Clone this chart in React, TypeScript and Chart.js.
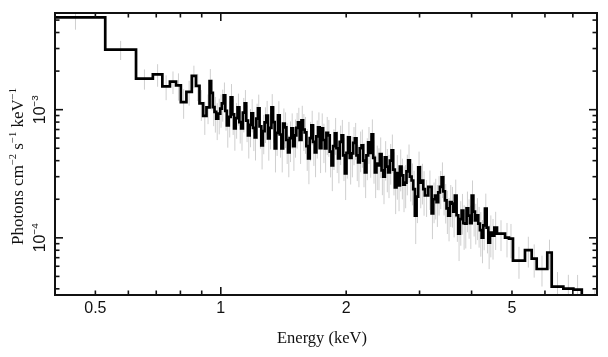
import React, { useEffect, useRef } from 'react';
import { Chart, registerables } from 'chart.js';

Chart.register(...registerables);

// Bin lower edges (keV)
const binLo = [
  0.38, 0.528, 0.626, 0.687, 0.724, 0.755, 0.781, 0.802, 0.827, 0.852, 0.872, 0.889, 0.907, 0.924,
  0.940, 0.948, 0.957, 0.966, 0.975, 0.986, 0.997, 1.006, 1.016, 1.025,
  1.034, 1.045, 1.056, 1.066, 1.076, 1.086, 1.097, 1.108, 1.119, 1.130,
  1.141, 1.151, 1.162, 1.173, 1.184, 1.195, 1.206, 1.217, 1.228, 1.239,
  1.251, 1.262, 1.274, 1.286, 1.298, 1.310, 1.323, 1.335, 1.347, 1.359,
  1.372, 1.385, 1.398, 1.411, 1.424, 1.437, 1.450, 1.463, 1.477, 1.491,
  1.505, 1.518, 1.532, 1.547, 1.562, 1.576, 1.590, 1.605, 1.620, 1.635,
  1.650, 1.665, 1.681, 1.696, 1.712, 1.728, 1.744, 1.760, 1.777, 1.793,
  1.809, 1.826, 1.844, 1.861, 1.878, 1.895, 1.912, 1.930, 1.949, 1.967,
  1.985, 2.003, 2.021, 2.040, 2.060, 2.079, 2.098, 2.117, 2.136, 2.156,
  2.177, 2.197, 2.217, 2.237, 2.258, 2.279, 2.301, 2.322, 2.343, 2.364,
  2.386, 2.409, 2.432, 2.454, 2.476, 2.499, 2.522, 2.546, 2.570, 2.593,
  2.617, 2.641, 2.666, 2.691, 2.716, 2.741, 2.766, 2.791, 2.817, 2.844,
  2.871, 2.897, 2.924, 2.951, 2.978, 3.006, 3.034, 3.062, 3.090, 3.148,
  3.207, 3.236, 3.266, 3.296, 3.326, 3.357, 3.389, 3.420, 3.452, 3.483,
  3.515, 3.548, 3.582, 3.615, 3.648, 3.681, 3.715, 3.750, 3.786, 3.821,
  3.856, 3.891, 3.927, 3.964, 4.002, 4.038, 4.075, 4.112, 4.150, 4.189,
  4.229, 4.268, 4.307, 4.347, 4.387, 4.428, 4.470, 4.536,
  4.603, 4.812, 4.918, 5.028, 5.373, 5.576, 5.732, 6.078, 6.228, 6.642, 7.020, 7.355,
];
const binEnd = 8.5;

// Photons cm^-2 s^-1 keV^-1, in units of 1e-3
const fluxMilli = [
  5.26, 2.94, 1.747, 1.887, 1.52, 1.655, 1.548, 1.147, 1.377, 1.837, 1.535, 1.12, 0.895, 1.042,
  1.673, 1.35, 1.048, 0.96, 0.851, 0.93, 1.018, 1.12, 1.293, 0.98,
  0.754, 0.88, 1.248, 0.92, 0.714, 0.86, 1.042, 0.80, 0.714, 0.95,
  1.12, 0.82, 0.630, 0.76, 0.936, 0.72, 0.608, 0.85, 1.024, 0.74,
  0.526, 0.68, 0.796, 0.90, 0.597, 0.72, 1.042, 0.80, 0.498, 0.66,
  0.903, 0.64, 0.498, 0.78, 0.727, 0.58, 0.464, 0.60, 0.714, 0.52,
  0.630, 0.72, 0.796, 0.58, 0.825, 0.70, 0.665, 0.52, 0.416, 0.60,
  0.754, 0.56, 0.464, 0.62, 0.727, 0.50, 0.714, 0.58, 0.498, 0.66,
  0.630, 0.47, 0.367, 0.52, 0.653, 0.50, 0.416, 0.56, 0.630, 0.44,
  0.318, 0.46, 0.608, 0.42, 0.456, 0.55, 0.597, 0.44, 0.388, 0.50,
  0.526, 0.40, 0.324, 0.44, 0.555, 0.46, 0.641, 0.42, 0.324, 0.38,
  0.367, 0.45, 0.336, 0.30, 0.424, 0.36, 0.324, 0.40, 0.481, 0.34,
  0.247, 0.32, 0.256, 0.36, 0.307, 0.26, 0.270, 0.33, 0.402, 0.30,
  0.280, 0.24, 0.149, 0.21, 0.354, 0.27, 0.280, 0.24, 0.214, 0.25,
  0.155, 0.20, 0.214, 0.19, 0.226, 0.25, 0.296, 0.23, 0.196, 0.17,
  0.149, 0.19, 0.185, 0.16, 0.214, 0.15, 0.108, 0.14, 0.163, 0.13,
  0.129, 0.17, 0.149, 0.13, 0.214, 0.16, 0.1365, 0.15, 0.129, 0.115,
  0.1005, 0.125, 0.169, 0.12, 0.0919, 0.11, 0.104, 0.12,
  0.108, 0.1005, 0.0987, 0.0665, 0.0803, 0.0689, 0.0571, 0.0768, 0.0416, 0.0402, 0.0395, 0.030,
];

// Relative 1-sigma errors per bin
const relErr = [
  0.20, 0.17, 0.18, 0.20, 0.22, 0.20, 0.24, 0.26, 0.22, 0.20, 0.24, 0.27, 0.29, 0.26,
  0.24, 0.27, 0.29, 0.31, 0.32, 0.31, 0.29, 0.28, 0.26, 0.30,
  0.33, 0.31, 0.27, 0.31, 0.33, 0.31, 0.28, 0.32, 0.33, 0.30,
  0.27, 0.32, 0.34, 0.33, 0.29, 0.34, 0.34, 0.31, 0.28, 0.33,
  0.35, 0.34, 0.31, 0.30, 0.33, 0.32, 0.27, 0.31, 0.35, 0.34,
  0.29, 0.34, 0.35, 0.31, 0.31, 0.35, 0.36, 0.35, 0.31, 0.36,
  0.33, 0.31, 0.30, 0.35, 0.30, 0.32, 0.32, 0.36, 0.37, 0.34,
  0.30, 0.35, 0.36, 0.33, 0.31, 0.36, 0.31, 0.34, 0.35, 0.33,
  0.32, 0.37, 0.37, 0.35, 0.32, 0.36, 0.36, 0.34, 0.32, 0.37,
  0.38, 0.37, 0.32, 0.38, 0.35, 0.33, 0.32, 0.37, 0.36, 0.35,
  0.33, 0.38, 0.37, 0.36, 0.32, 0.36, 0.31, 0.37, 0.37, 0.38,
  0.36, 0.35, 0.36, 0.39, 0.34, 0.37, 0.37, 0.35, 0.33, 0.37,
  0.38, 0.38, 0.37, 0.36, 0.35, 0.39, 0.37, 0.35, 0.33, 0.36,
  0.36, 0.39, 0.40, 0.38, 0.33, 0.37, 0.35, 0.38, 0.32, 0.34,
  0.37, 0.35, 0.35, 0.36, 0.34, 0.33, 0.31, 0.35, 0.34, 0.37,
  0.37, 0.36, 0.35, 0.37, 0.33, 0.38, 0.39, 0.38, 0.35, 0.38,
  0.36, 0.35, 0.34, 0.37, 0.31, 0.36, 0.35, 0.36, 0.35, 0.38,
  0.37, 0.36, 0.31, 0.37, 0.38, 0.36, 0.35, 0.33,
  0.27, 0.30, 0.30, 0.28, 0.27, 0.29, 0.27, 0.26, 0.30, 0.28, 0.30, 0.30,
];

const xMin = 0.4;
const xMax = 8;
const yMin = 3.58e-5;
const yMax = 5.68e-3;

const xTickLabels = [0.5, 1, 2, 5];
const xMajorTicks = [1];
const xMinorTicks = [0.5, 0.6, 0.7, 0.8, 0.9, 2, 3, 4, 5, 6, 7];
const yMajorTicks = [1e-4, 1e-3];
const yMinorTicks = [4e-5, 5e-5, 6e-5, 7e-5, 8e-5, 9e-5, 2e-4, 3e-4, 4e-4, 5e-4, 6e-4, 7e-4, 8e-4, 9e-4, 2e-3, 3e-3, 4e-3, 5e-3];
const yTickValues = [1e-4, 1e-3];
const yTickExponents = ['\u22124', '\u22123'];

const xTitle = 'Energy (keV)';
const yTitleParts = [
  { t: 'Photons cm', sup: false },
  { t: '\u22122', sup: true },
  { t: ' s', sup: false },
  { t: '\u22121', sup: true },
  { t: ' keV', sup: false },
  { t: '\u22121', sup: true },
];

type Part = { t: string; sup: boolean };

function drawRich(ctx: CanvasRenderingContext2D, parts: Part[], x: number, y: number, size: number, family: string) {
  const supSize = size * 0.62;
  let total = 0;
  const widths: number[] = [];
  for (const p of parts) {
    ctx.font = `${p.sup ? supSize : size}px ${family}`;
    const w = ctx.measureText(p.t).width;
    widths.push(w);
    total += w;
  }
  let cx = x - total / 2;
  ctx.textAlign = 'left';
  ctx.textBaseline = 'alphabetic';
  parts.forEach((p, i) => {
    ctx.font = `${p.sup ? supSize : size}px ${family}`;
    ctx.fillText(p.t, cx, p.sup ? y - size * 0.42 : y);
    cx += widths[i];
  });
}

const framePlugin = {
  id: 'frame',
  afterDraw(chart: any) {
    const ctx: CanvasRenderingContext2D = chart.ctx;
    const { left, right, top, bottom } = chart.chartArea;
    const xs = chart.scales.x;
    const ys = chart.scales.y;
    ctx.save();
    ctx.strokeStyle = '#111';
    ctx.fillStyle = '#111';
    ctx.lineWidth = 1.6;
    const tick = (x1: number, y1: number, x2: number, y2: number) => {
      ctx.beginPath();
      ctx.moveTo(x1, y1);
      ctx.lineTo(x2, y2);
      ctx.stroke();
    };
    const xt = [...xMajorTicks.map((v) => [v, 8]), ...xMinorTicks.map((v) => [v, 4.5])];
    for (const [v, len] of xt) {
      const px = xs.getPixelForValue(v);
      tick(px, bottom, px, bottom - len);
      tick(px, top, px, top + len);
    }
    const yt = [...yMajorTicks.map((v) => [v, 8]), ...yMinorTicks.map((v) => [v, 4.5])];
    for (const [v, len] of yt) {
      const py = ys.getPixelForValue(v);
      tick(left, py, left + len, py);
      tick(right, py, right - len, py);
    }
    ctx.lineWidth = 2;
    ctx.strokeRect(left, top, right - left, bottom - top);

    ctx.font = '16px "Liberation Sans", Arial, sans-serif';
    ctx.textAlign = 'center';
    ctx.textBaseline = 'alphabetic';
    for (const v of xTickLabels) {
      ctx.fillText(String(v), xs.getPixelForValue(v), 313);
    }
    yTickValues.forEach((v, i) => {
      const py = ys.getPixelForValue(v);
      ctx.save();
      ctx.translate(45, py);
      ctx.rotate(-Math.PI / 2);
      drawRich(ctx, [{ t: '10', sup: false }, { t: yTickExponents[i], sup: true }], 0, 0, 16, '"Liberation Sans", Arial, sans-serif');
      ctx.restore();
    });
    ctx.font = '16.5px "Liberation Serif", "Times New Roman", serif';
    ctx.textAlign = 'center';
    ctx.fillText(xTitle, 322, 343);
    ctx.save();
    ctx.translate(23, 166.5);
    ctx.rotate(-Math.PI / 2);
    drawRich(ctx, yTitleParts, 0, 0, 17, '"Liberation Serif", "Times New Roman", serif');
    ctx.restore();
    ctx.restore();
  },
};

export default function App() {
  const ref = useRef<HTMLCanvasElement | null>(null);
  useEffect(() => {
    if (!ref.current) return;
    const flux = fluxMilli.map((v) => v * 1e-3);
    const stepData = binLo.map((e, i) => ({ x: e, y: flux[i] }));
    stepData.push({ x: binEnd, y: flux[flux.length - 1] });
    const errData: { x: number; y: number | null }[] = [];
    binLo.forEach((lo, i) => {
      const hi = i + 1 < binLo.length ? binLo[i + 1] : binEnd;
      const c = Math.sqrt(lo * hi);
      errData.push({ x: c, y: flux[i] * (1 - relErr[i]) });
      errData.push({ x: c, y: flux[i] * (1 + relErr[i]) });
      errData.push({ x: c, y: null });
    });
    const chart = new Chart(ref.current, {
      type: 'line',
      data: {
        datasets: [
          {
            data: stepData,
            stepped: 'before',
            borderColor: '#000',
            borderWidth: 2.7,
            pointRadius: 0,
            fill: false,
            clip: 0,
            order: 1,
          } as any,
          {
            data: errData,
            borderColor: '#cfcfcf',
            borderWidth: 1,
            pointRadius: 0,
            spanGaps: false,
            fill: false,
            clip: 0,
            order: 2,
          } as any,
        ],
      },
      options: {
        animation: false,
        responsive: false,
        devicePixelRatio: 1,
        layout: { padding: { left: 55, right: 11, top: 13, bottom: 62 } },
        scales: {
          x: { type: 'logarithmic', min: xMin, max: xMax, display: false },
          y: { type: 'logarithmic', min: yMin, max: yMax, display: false },
        },
        plugins: { legend: { display: false }, tooltip: { enabled: false } },
        events: [],
      },
      plugins: [framePlugin],
    });
    return () => chart.destroy();
  }, []);
  return (
    <div style={{ position: 'fixed', left: 0, top: 0, width: 608, height: 357, background: '#fff' }}>
      <canvas ref={ref} width={608} height={357} style={{ display: 'block' }} />
    </div>
  );
}
